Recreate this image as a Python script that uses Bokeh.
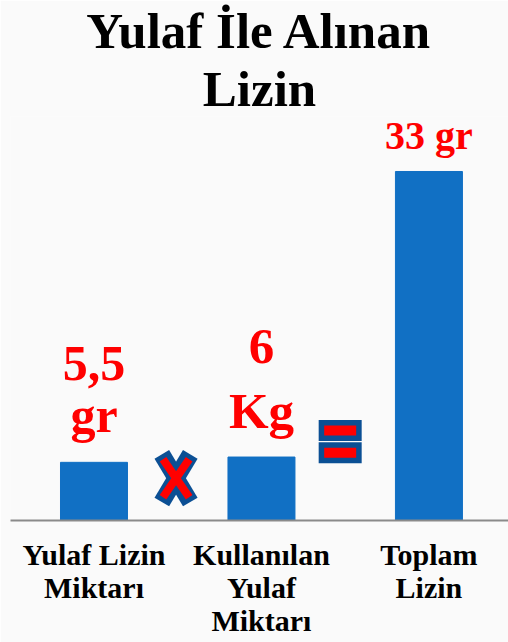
from bokeh.plotting import figure
from bokeh.models import ColumnDataSource, Range1d, FixedTicker, Title
from bokeh.core.properties import value
from bokeh.embed import file_html
from bokeh.resources import INLINE

# ---- data ----
title_lines = ["Yulaf İle Alınan", "Lizin"]
categories = ["Yulaf Lizin\nMiktarı", "Kullanılan\nYulaf\nMiktarı", "Toplam\nLizin"]
values = [5.5, 6, 33]
value_label_lines = [["5,5", "gr"], ["6", "Kg"], ["33 gr"]]

# ---- label styling (screen offsets of each line relative to bar top) ----
label_line_offsets = [[-99, -47], [-111, -46], [-36]]
label_sizes = ["50px", "51px", "40px"]

# decorative operator symbols (x between categories, y in data units)
times_x = [0.49]
times_y = [4.0]
equals_x = [1.47, 1.47]
equals_y = [8.5, 6.4]

BAR = "#1170C4"
DARK = "#0B4F94"
RED = "#FF0000"
FONT = "Liberation Serif"
BG = "#FAFAFA"

xs = list(range(len(categories)))
bar_src = ColumnDataSource(dict(x=xs, top=values))

lx, ly, lt, lo, ls = [], [], [], [], []
for i, (lines, offs) in enumerate(zip(value_label_lines, label_line_offsets)):
    for t, o in zip(lines, offs):
        lx.append(xs[i]); ly.append(values[i]); lt.append(t); lo.append(o)
        ls.append(label_sizes[i])
lab_src = ColumnDataSource(dict(x=lx, y=ly, text=lt, off=lo, size=ls))

p = figure(width=508, height=642, output_backend="svg", toolbar_location=None,
           x_range=Range1d(-0.4985, 2.475), y_range=Range1d(0, 38.2),
           min_border_left=10, min_border_right=0, min_border_bottom=122,
           min_border_top=110,
           background_fill_color=BG, border_fill_color=BG,
           outline_line_color=None)

title_style = dict(align="center", text_font=FONT, text_font_size="51px",
                   text_font_style="bold", text_color="black", standoff=0, offset=0)
p.title.text = title_lines[0]
for k, v in title_style.items():
    setattr(p.title, k, v)
p.add_layout(Title(text=title_lines[1], **title_style), "above")

p.vbar(x="x", top="top", width=0.4, source=bar_src, color=BAR)

p.text(x="x", y="y", text="text", y_offset="off", source=lab_src,
       text_align="center", text_baseline="alphabetic", text_color=RED,
       text_font=value(FONT), text_font_style="bold", text_font_size="size")

# multiply sign
dx_o, dy_o = 0.085, 2.25
dx_i, dy_i = 0.078, 1.8
tx, ty = times_x[0], times_y[0]
p.segment(x0=[tx - dx_o, tx - dx_o], y0=[ty + dy_o, ty - dy_o],
          x1=[tx + dx_o, tx + dx_o], y1=[ty - dy_o, ty + dy_o],
          line_color=DARK, line_width=17, line_cap="butt")
p.segment(x0=[tx - dx_i, tx - dx_i], y0=[ty + dy_i, ty - dy_i],
          x1=[tx + dx_i, tx + dx_i], y1=[ty - dy_i, ty + dy_i],
          line_color=RED, line_width=8, line_cap="butt")

# equals sign
p.rect(x=equals_x, y=equals_y, width=43, height=21, width_units="screen",
       height_units="screen", fill_color=DARK, line_color=None)
p.rect(x=equals_x, y=equals_y, width=32, height=10, width_units="screen",
       height_units="screen", fill_color=RED, line_color=None)

p.yaxis.visible = False
p.grid.visible = False
p.xaxis.ticker = FixedTicker(ticks=xs)
p.xaxis.major_label_overrides = {i: c for i, c in zip(xs, categories)}
p.xaxis.major_tick_line_color = None
p.xaxis.minor_tick_line_color = None
p.xaxis.axis_line_color = "#8A8A8A"
p.xaxis.axis_line_width = 2
p.xaxis.major_label_standoff = 11
p.xaxis.major_label_text_font = FONT
p.xaxis.major_label_text_font_style = "bold"
p.xaxis.major_label_text_font_size = "30px"
p.xaxis.major_label_text_line_height = 1.0
p.xaxis.major_label_text_color = "black"

open("out.html", "w").write(file_html(p, INLINE))
